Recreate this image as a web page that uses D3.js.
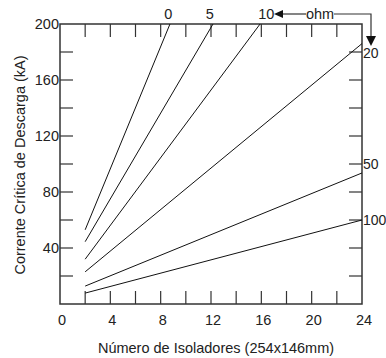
<!DOCTYPE html>
<html>
<head>
<meta charset="utf-8">
<script src="https://cdn.jsdelivr.net/npm/d3@7"></script>
<style>
  body { margin: 0; background: #fff; }
  text { font-family: "Liberation Sans", Arial, sans-serif; fill: #222; }
</style>
</head>
<body>
<svg id="chart" width="386" height="358"></svg>
<script>
// line data (resistance in ohm -> critical current vs number of insulators)
const ohmLabels = ["0", "5", "10", "20", "50", "100"];
const xStart = [2, 2, 2, 2, 2, 2];
const yStart = [53, 44.5, 32, 23, 12.8, 7.8];
const xEnd = [8.74, 12.16, 15.9, 24, 24, 24];
const yEnd = [200, 200, 200, 186, 93.6, 60];

// where the ohm labels sit
const topLabels = ["0", "5", "10"];
const topLabelX = [8.6, 11.9, 16.4];
const rightLabels = ["20", "50", "100"];
const rightLabelY = [179, 100, 60];

const xTickLabels = [0, 4, 8, 12, 16, 20, 24];
const xMinorTicks = [2, 4, 6, 8, 10, 12, 14, 16, 18, 20, 22];
const yTickLabels = [40, 80, 120, 160, 200];
const yMinorTicks = [20, 40, 60, 80, 100, 120, 140, 160, 180];

const svg = d3.select("#chart");
const mLeft = 60, mRight = 362, mTop = 24, mBottom = 304;

const x = d3.scaleLinear().domain([0, 24]).range([mLeft, mRight]);
const y = d3.scaleLinear().domain([0, 200]).range([mBottom, mTop]);

const frameColor = "#333";
const tickLen = 13;
const fs = "14.5px";

// ticks, all pointing inward
const g = svg.append("g");
g.selectAll(".tb").data(xMinorTicks).enter().append("line")
    .attr("x1", d => x(d)).attr("x2", d => x(d))
    .attr("y1", mBottom).attr("y2", mBottom - tickLen)
    .attr("stroke", frameColor).attr("stroke-width", 1.2);
g.selectAll(".tt").data(xMinorTicks).enter().append("line")
    .attr("x1", d => x(d)).attr("x2", d => x(d))
    .attr("y1", mTop).attr("y2", mTop + tickLen)
    .attr("stroke", frameColor).attr("stroke-width", 1.2);
g.selectAll(".tl").data(yMinorTicks).enter().append("line")
    .attr("x1", mLeft).attr("x2", mLeft + tickLen)
    .attr("y1", d => y(d)).attr("y2", d => y(d))
    .attr("stroke", frameColor).attr("stroke-width", 1.2);
g.selectAll(".tr").data(yMinorTicks).enter().append("line")
    .attr("x1", mRight).attr("x2", mRight - tickLen)
    .attr("y1", d => y(d)).attr("y2", d => y(d))
    .attr("stroke", frameColor).attr("stroke-width", 1.2);

// frame
svg.append("rect")
    .attr("x", mLeft).attr("y", mTop)
    .attr("width", mRight - mLeft).attr("height", mBottom - mTop)
    .attr("fill", "none").attr("stroke", frameColor).attr("stroke-width", 1.5);

// tick labels
svg.selectAll(".xl").data(xTickLabels).enter().append("text")
    .attr("x", d => x(d) + 2).attr("y", mBottom + 21)
    .attr("text-anchor", "middle").style("font-size", fs)
    .text(d => d);
svg.selectAll(".yl").data(yTickLabels).enter().append("text")
    .attr("x", mLeft - 1).attr("y", d => y(d) + 5)
    .attr("text-anchor", "end").style("font-size", fs)
    .text(d => d);

// the lines
const lineData = ohmLabels.map((o, i) => [[xStart[i], yStart[i]], [xEnd[i], yEnd[i]]]);
const line = d3.line().x(d => x(d[0])).y(d => y(d[1]));
svg.selectAll(".ohm").data(lineData).enter().append("path")
    .attr("d", line)
    .attr("fill", "none").attr("stroke", "#111").attr("stroke-width", 1);

// ohm labels
svg.selectAll(".top").data(topLabels).enter().append("text")
    .attr("x", (d, i) => x(topLabelX[i])).attr("y", mTop - 5)
    .attr("text-anchor", "middle").style("font-size", fs)
    .text(d => d);
svg.selectAll(".rgt").data(rightLabels).enter().append("text")
    .attr("x", mRight + 1).attr("y", (d, i) => y(rightLabelY[i]) + 5)
    .attr("text-anchor", "start").style("font-size", "14px")
    .text(d => d);

// "ohm" arrow
const ay = 14;
svg.append("text")
    .attr("x", 320).attr("y", ay + 5)
    .attr("text-anchor", "middle").style("font-size", fs)
    .text("ohm");
svg.append("line").attr("x1", 282).attr("x2", 306).attr("y1", ay).attr("y2", ay)
    .attr("stroke", frameColor).attr("stroke-width", 1.2);
svg.append("path").attr("d", "M274," + ay + "L283," + (ay - 4) + "L283," + (ay + 4) + "Z")
    .attr("fill", "#111");
svg.append("path").attr("d", "M334," + ay + "H371V38")
    .attr("fill", "none").attr("stroke", frameColor).attr("stroke-width", 1.2);
svg.append("path").attr("d", "M366,36L376,36L371,46Z").attr("fill", "#111");

// axis titles
svg.append("text")
    .attr("x", 216).attr("y", 353)
    .attr("text-anchor", "middle").style("font-size", fs)
    .text("Número de Isoladores (254x146mm)");
svg.append("text")
    .attr("transform", "translate(25,165)rotate(-90)")
    .attr("text-anchor", "middle").style("font-size", fs)
    .text("Corrente Crítica de Descarga (kA)");
</script>
</body>
</html>
